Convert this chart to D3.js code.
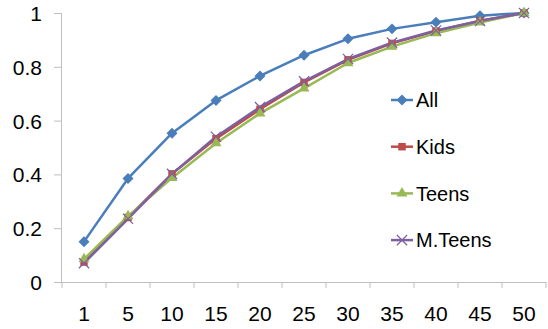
<!DOCTYPE html>
<html>
<head>
<meta charset="utf-8">
<script src="https://cdn.jsdelivr.net/npm/d3@7"></script>
<style>
  body { margin: 0; background: #fff; }
  text { font-family: "Liberation Sans", Arial, sans-serif; fill: #000; }
</style>
</head>
<body>
<svg width="548" height="329"></svg>
<script>
const categories = ["1", "5", "10", "15", "20", "25", "30", "35", "40", "45", "50"];
const allValues    = [0.15, 0.385, 0.553, 0.675, 0.766, 0.843, 0.904, 0.941, 0.966, 0.99, 1.0];
const kidsValues   = [0.074, 0.24, 0.402, 0.533, 0.642, 0.742, 0.826, 0.887, 0.933, 0.971, 1.0];
const teensValues  = [0.085, 0.245, 0.387, 0.516, 0.627, 0.72, 0.814, 0.875, 0.925, 0.965, 1.0];
const mteensValues = [0.07, 0.235, 0.402, 0.54, 0.65, 0.746, 0.829, 0.89, 0.935, 0.97, 1.0];
const yTicks = [0, 0.2, 0.4, 0.6, 0.8, 1];

const series = [
  { name: "All", values: allValues, color: "#4a7ebb", marker: "diamond" },
  { name: "Kids", values: kidsValues, color: "#be4b48", marker: "square" },
  { name: "Teens", values: teensValues, color: "#98b954", marker: "triangle" },
  { name: "M.Teens", values: mteensValues, color: "#7d60a0", marker: "x" }
];

let svg = d3.select("svg");
let margin = { top: 13, right: 2, bottom: 47, left: 62 };
let width = 548 - margin.left - margin.right;
let height = 329 - margin.top - margin.bottom;

let x = d3.scaleBand().domain(categories).range([0, width]).padding(0);
let y = d3.scaleLinear().domain([0, 1]).range([height, 0]);
let cx = c => x(c) + x.bandwidth() / 2;

let g = svg.append("g").attr("transform", `translate(${margin.left}, ${margin.top})`);

// y axis
let yAxis = g.append("g").call(d3.axisLeft(y).tickValues(yTicks).tickSize(8).tickPadding(12)
  .tickFormat(d => d3.format("")(d)));
yAxis.select(".domain").attr("stroke", "#bfbfbf").attr("d", `M-0.5,${height}V0`);
yAxis.selectAll(".tick line").attr("stroke", "#bfbfbf");
yAxis.selectAll(".tick text").attr("font-size", "21px").attr("dy", "0.36em");

// x axis - labels centered in bands, ticks between bands
let xAxis = g.append("g").attr("transform", `translate(0, ${height})`)
  .call(d3.axisBottom(x).tickSize(0).tickPadding(24));
xAxis.select(".domain").attr("stroke", "#bfbfbf").attr("d", `M0,0.5H${width}`);
xAxis.selectAll(".tick text").attr("font-size", "21px");
let bounds = categories.map(c => x(c)).concat([width]);
xAxis.selectAll(".between")
  .data(bounds)
  .enter().append("line")
  .attr("x1", d => d).attr("x2", d => d)
  .attr("y1", 0).attr("y2", 6)
  .attr("stroke", "#bfbfbf");

// lines
let line = d3.line().x((d, i) => cx(categories[i])).y(d => y(d));

function drawMarker(sel, s) {
  if (s.marker === "diamond") {
    sel.append("path").attr("d", d3.symbol(d3.symbolSquare, 60)())
      .attr("transform", "rotate(45)").attr("fill", s.color);
  } else if (s.marker === "square") {
    sel.append("path").attr("d", d3.symbol(d3.symbolSquare, 56)()).attr("fill", s.color);
  } else if (s.marker === "triangle") {
    sel.append("path").attr("d", d3.symbol(d3.symbolTriangle, 52)()).attr("fill", s.color);
  } else {
    sel.append("path").attr("d", d3.symbol(d3.symbolTimes || d3.symbolX, 70)())
      .attr("fill", "none").attr("stroke", s.color).attr("stroke-width", 1.2);
  }
}

series.forEach(s => {
  g.append("path")
    .datum(s.values)
    .attr("fill", "none")
    .attr("stroke", s.color)
    .attr("stroke-width", 2.5)
    .attr("stroke-linejoin", "round")
    .attr("d", line);
});

series.forEach(s => {
  g.append("g")
    .selectAll("g")
    .data(s.values)
    .enter().append("g")
    .attr("transform", (d, i) => `translate(${cx(categories[i])}, ${y(d)})`)
    .each(function () { drawMarker(d3.select(this), s); });
});

// legend
let legend = svg.append("g").attr("transform", "translate(391, 100)");
series.forEach((s, i) => {
  let item = legend.append("g").attr("transform", `translate(0, ${i * 46.7})`);
  item.append("line").attr("x1", 0).attr("x2", 22).attr("y1", 0).attr("y2", 0)
    .attr("stroke", s.color).attr("stroke-width", 2.5);
  let m = item.append("g").attr("transform", "translate(11, 0)");
  drawMarker(m, s);
  item.append("text").attr("x", 25).attr("y", 0).attr("dy", "0.36em")
    .attr("font-size", "20px").text(s.name);
});
</script>
</body>
</html>
